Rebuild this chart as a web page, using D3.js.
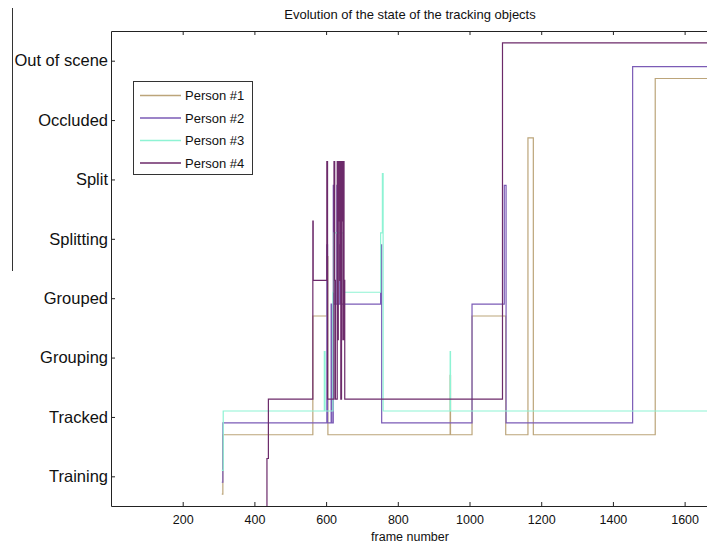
<!DOCTYPE html>
<html>
<head>
<meta charset="utf-8">
<script src="https://cdn.jsdelivr.net/npm/d3@7"></script>
<style>
  html, body { margin: 0; padding: 0; background: #fff; }
  svg { display: block; font-family: "Liberation Sans", Arial, sans-serif; }
</style>
</head>
<body>
<div id="chart"></div>
<script>
// ---------- data ----------
const stateLabels = ["Training", "Tracked", "Grouping", "Grouped", "Splitting", "Split", "Occluded", "Out of scene"];
const stateValues = [1, 2, 3, 4, 5, 6, 7, 8];
const xTicks = [200, 400, 600, 800, 1000, 1200, 1400, 1600];
const seriesNames = ["Person #1", "Person #2", "Person #3", "Person #4"];
const seriesOffsets = [-0.3, -0.1, 0.1, 0.3];
const lastFrame = 1668;

// change points (frame where the state starts) and states
const p1Frames = [309, 312, 563, 603, 605, 946, 947, 1007, 1101, 1163, 1178, 1518];
const p1States = [1,   2,   4,   5,   2,   3,   2,   4,    2,    7,    2,    8];

const p2Frames = [309, 312, 602, 604, 614, 616, 620, 622, 630, 632, 638, 640, 752, 755, 1007, 1097, 1102, 1455];
const p2States = [1,   2,   5,   2,   4,   2,   6,   4,   6,   4,   5,   4,   5,   2,   4,    6,    2,    8];

const p3Frames = [309, 313, 595, 597, 617, 619, 621, 646, 648, 752, 757, 759, 946, 947];
const p3States = [1,   2,   3,   2,   2,   4,   5,   5,   4,   5,   6,   2,   3,   2];

const p4Frames = [430, 435, 439, 563, 564, 602, 604, 622, 624, 626, 631, 632, 634, 635, 637, 638, 640, 641, 643, 644, 646, 647, 649, 650, 652, 1092];
const p4States = [0,   1,   2,   5,   4,   6,   2,   6,   4,   2,   6,   3,   6,   5,   6,   4,   6,   2,   6,   5,   6,   3,   6,   4,   2,   8];

const seriesFrames = [p1Frames, p2Frames, p3Frames, p4Frames];
const seriesStates = [p1States, p2States, p3States, p4States];
const seriesColors = ["#bca57a", "#7b5bb6", "#8ef3d4", "#6c2a6a"];

// ---------- layout ----------
const W = 707, H = 547;
const m = { left: 111, top: 31, right: 709, bottom: 506 };

const svg = d3.select("#chart").append("svg").attr("width", W).attr("height", H);

const x = d3.scaleLinear().domain([0, lastFrame]).range([m.left, m.right]);
const y = d3.scaleLinear().domain([0.5, 8.5]).range([m.bottom, m.top]);

svg.append("defs").append("clipPath").attr("id", "plotclip")
  .append("rect").attr("x", m.left).attr("y", m.top)
  .attr("width", m.right - m.left).attr("height", m.bottom - m.top);

// stray vertical line at far left
svg.append("line").attr("x1", 12.5).attr("x2", 12.5).attr("y1", 8).attr("y2", 271)
  .attr("stroke", "#333").attr("stroke-width", 1);

// title
svg.append("text").attr("x", (m.left + m.right) / 2).attr("y", 19)
  .attr("text-anchor", "middle").attr("font-size", 13).attr("fill", "#111")
  .text("Evolution of the state of the tracking objects");

// series
const line = d3.line().x(d => x(d[0])).y(d => y(d[1])).curve(d3.curveStepAfter);
const plot = svg.append("g").attr("clip-path", "url(#plotclip)");
seriesNames.forEach((name, i) => {
  const fr = seriesFrames[i], st = seriesStates[i];
  const pts = fr.map((f, k) => [f, st[k] + seriesOffsets[i]]);
  pts.push([lastFrame, st[st.length - 1] + seriesOffsets[i]]);
  plot.append("path").datum(pts).attr("d", line)
    .attr("fill", "none").attr("stroke", seriesColors[i]).attr("stroke-width", 1.2);
});

// axes
const tickLen = 4;
const xAxisB = d3.axisBottom(x).tickValues(xTicks).tickFormat(d3.format("d"))
  .tickSizeInner(-tickLen).tickSizeOuter(0).tickPadding(9);
const gxb = svg.append("g").attr("transform", `translate(0,${m.bottom})`).call(xAxisB);
gxb.selectAll("text").attr("font-size", 12.5).attr("fill", "#111").attr("font-family", "Liberation Sans, Arial, sans-serif");

const xAxisT = d3.axisTop(x).tickValues(xTicks).tickSizeInner(-tickLen).tickSizeOuter(0).tickFormat("");
svg.append("g").attr("transform", `translate(0,${m.top})`).call(xAxisT);

const yAxis = d3.axisLeft(y).tickValues(stateValues).tickFormat((d, i) => stateLabels[i])
  .tickSizeInner(-tickLen).tickSizeOuter(0).tickPadding(3);
const gy = svg.append("g").attr("transform", `translate(${m.left},0)`).call(yAxis);
gy.selectAll("text").attr("font-size", 16.5).attr("fill", "#111").attr("font-family", "Liberation Sans, Arial, sans-serif");

svg.selectAll(".domain").attr("stroke", "#222");
svg.selectAll(".tick line").attr("stroke", "#222");

// x label
svg.append("text").attr("x", (m.left + m.right) / 2).attr("y", 541)
  .attr("text-anchor", "middle").attr("font-size", 12.5).attr("fill", "#111")
  .text("frame number");

// legend
const lg = svg.append("g");
lg.append("rect").attr("x", 133.5).attr("y", 81.5).attr("width", 119).attr("height", 93)
  .attr("fill", "#fff").attr("stroke", "#333").attr("stroke-width", 1);
seriesNames.forEach((name, i) => {
  const cy = 95.5 + i * 22.5;
  lg.append("line").attr("x1", 140).attr("x2", 181).attr("y1", cy).attr("y2", cy)
    .attr("stroke", seriesColors[i]).attr("stroke-width", 1.5);
  lg.append("text").attr("x", 185).attr("y", cy).attr("dy", "0.35em")
    .attr("font-size", 13).attr("fill", "#111").text(name);
});
</script>
</body>
</html>
